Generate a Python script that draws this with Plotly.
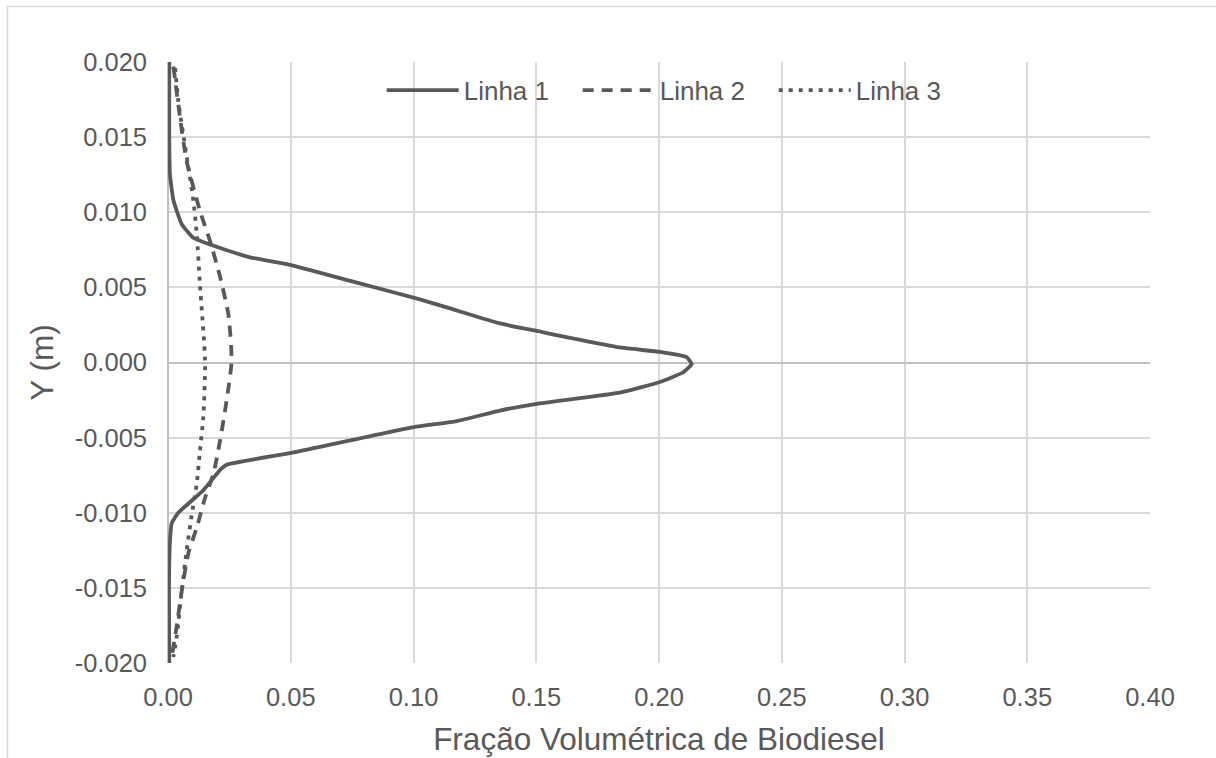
import plotly.graph_objects as go

# ---- data ----
linha1_x = [0.0005, 0.0005, 0.0008, 0.0022, 0.0056, 0.0103, 0.0198, 0.0334, 0.0497, 0.0750,
            0.1026, 0.1149, 0.1352, 0.1502, 0.1841, 0.2004, 0.2113, 0.2133, 0.2099, 0.2004,
            0.1841, 0.1502, 0.1352, 0.1176, 0.1000, 0.0507, 0.0239, 0.0215, 0.0144, 0.0042,
            0.0015, 0.0008, 0.0004, 0.0005]
linha1_y = [0.0200, 0.0150, 0.0125, 0.0108, 0.0092, 0.0083, 0.0077, 0.0070, 0.0065, 0.0054,
            0.0042, 0.0036, 0.0026, 0.0021, 0.0010, 0.0007, 0.00035, -0.0001, -0.00065, -0.0013,
            -0.0020, -0.00275, -0.0032, -0.0039, -0.0043, -0.0060, -0.0068, -0.0071, -0.0085, -0.0100,
            -0.0107, -0.0119, -0.0150, -0.0200]

linha2_x = [0.0022, 0.0049, 0.0076, 0.0130, 0.0171, 0.0212, 0.0246, 0.0259, 0.0239, 0.0212,
            0.0185, 0.0151, 0.0117, 0.0083, 0.0056, 0.0035, 0.0015]
linha2_y = [0.0197, 0.0163, 0.0134, 0.0101, 0.0081, 0.0057, 0.0032, 0.0001, -0.0025, -0.0052,
            -0.0074, -0.0090, -0.0110, -0.0127, -0.0152, -0.0176, -0.0196]

linha3_x = [0.0029, 0.0042, 0.0062, 0.0083, 0.0103, 0.0117, 0.0130, 0.0151, 0.0144, 0.0130,
            0.0117, 0.0097, 0.0076, 0.0056, 0.0035, 0.0022]
linha3_y = [0.0196, 0.0174, 0.0152, 0.0130, 0.0108, 0.0086, 0.0052, 0.0001, -0.0036, -0.0059,
            -0.0081, -0.0101, -0.0125, -0.0152, -0.0183, -0.0196]

x_tickvals = [0.00, 0.05, 0.10, 0.15, 0.20, 0.25, 0.30, 0.35, 0.40]
x_ticktext = ["0.00", "0.05", "0.10", "0.15", "0.20", "0.25", "0.30", "0.35", "0.40"]
y_tickvals = [-0.020, -0.015, -0.010, -0.005, 0.0, 0.005, 0.010, 0.015, 0.020]
y_ticktext = ["-0.020", "-0.015", "-0.010", "-0.005", "0.000", "0.005", "0.010", "0.015", "0.020"]

LINE = "#595959"
TXT = "#595959"
GRID = "#d9d9d9"
AXIS = "#bfbfbf"
FONT = "Liberation Sans, Arial, sans-serif"

fig = go.Figure()
fig.add_trace(go.Scatter(x=linha1_x, y=linha1_y, mode="lines", name="Linha 1",
                         line=dict(color=LINE, width=3.8, shape="spline", smoothing=0.4)))
fig.add_trace(go.Scatter(x=linha2_x, y=linha2_y, mode="lines", name="Linha 2",
                         line=dict(color=LINE, width=3.8, dash="11px,8px", shape="spline", smoothing=0.6)))
fig.add_trace(go.Scatter(x=linha3_x, y=linha3_y, mode="lines", name="Linha 3",
                         line=dict(color=LINE, width=3.8, dash="4px,6px", shape="spline", smoothing=0.6)))

fig.update_layout(
    width=1216, height=758,
    margin=dict(l=168, r=66, t=62, b=95),
    paper_bgcolor="white", plot_bgcolor="white",
    font=dict(family=FONT, color=TXT, size=25.5),
    showlegend=True,
    legend=dict(orientation="h", x=0.517, xanchor="center", y=0.953, yanchor="middle",
                bgcolor="rgba(0,0,0,0)", font=dict(size=26, color=TXT),
                itemwidth=72, entrywidth=109, entrywidthmode="pixels", tracegroupgap=0),
    shapes=[dict(type="rect", xref="paper", yref="paper",
                 x0=-0.1635, x1=1.2, y0=-0.3, y1=1.0924,
                 line=dict(color=GRID, width=1.5), fillcolor="rgba(0,0,0,0)", layer="below")],
)

fig.update_xaxes(range=[0, 0.40], tickvals=x_tickvals, ticktext=x_ticktext,
                 showgrid=True, gridcolor=GRID, gridwidth=1.6,
                 zeroline=True, zerolinecolor=AXIS, zerolinewidth=1.6,
                 showline=False, ticks="", ticklabelstandoff=16, automargin=False,
                 tickfont=dict(size=25.5, color=TXT),
                 title=dict(text="Fração Volumétrica de Biodiesel", font=dict(size=31.5, color=TXT),
                            standoff=18))
fig.update_yaxes(range=[-0.020, 0.020], tickvals=y_tickvals, ticktext=y_ticktext,
                 showgrid=True, gridcolor=GRID, gridwidth=1.6,
                 zeroline=True, zerolinecolor=AXIS, zerolinewidth=1.6,
                 showline=False, ticks="", ticklabelstandoff=20, automargin=False,
                 tickfont=dict(size=25.5, color=TXT),
                 title=dict(text="Y (m)", font=dict(size=31.5, color=TXT), standoff=11))

fig.write_html("out.html")
